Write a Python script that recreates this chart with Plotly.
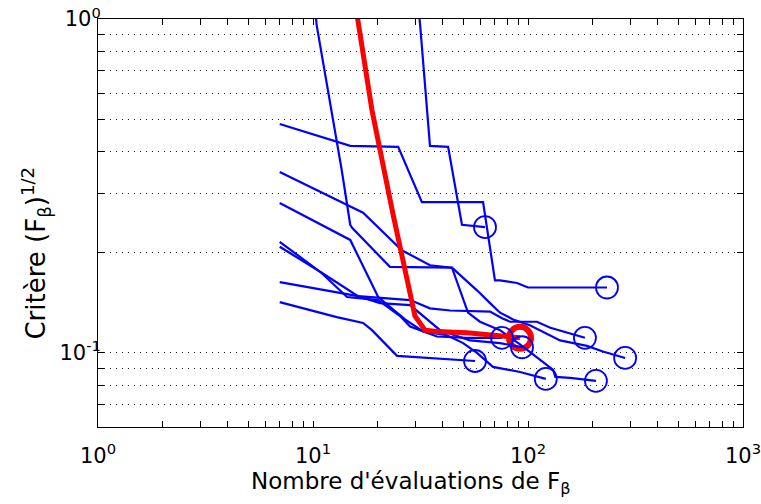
import plotly.graph_objects as go

# Nombre d'evaluations (x) et critere (y) pour chaque essai
run1_x = [7, 14.9, 24.9, 32.1, 61.8, 64.5, 70.2, 74.1, 88.9, 100, 233]
run1_y = [0.485, 0.417, 0.414, 0.283, 0.283, 0.238, 0.165, 0.165, 0.162, 0.157, 0.157]

run2_x = [30.5, 31.5, 35.0, 42.5, 49.3, 63.1]
run2_y = [1.18, 0.959, 0.417, 0.414, 0.242, 0.238]

run3_x = [10.1, 10.4, 13.6, 14.9, 15.2, 22.8, 44.3, 49.9, 57.9, 66.6, 74.1, 85.2, 102, 141, 188, 223, 283]
run3_y = [1.18, 0.959, 0.353, 0.242, 0.237, 0.181, 0.180, 0.168, 0.154, 0.141, 0.132, 0.126, 0.121, 0.109, 0.105, 0.101, 0.0966]

run4_x = [7, 17.1, 25.9, 35.0, 44.3, 47.2, 52.6, 59.8, 74.1, 91.8, 117, 131, 134, 157, 207]
run4_y = [0.348, 0.263, 0.203, 0.183, 0.180, 0.160, 0.132, 0.124, 0.117, 0.106, 0.0940, 0.0889, 0.0848, 0.0842, 0.0825]

run5_x = [7, 14.9, 20.1, 26.8, 32.5, 42.0, 49.9, 57.9, 68.7, 91.8, 121]
run5_y = [0.281, 0.218, 0.147, 0.126, 0.116, 0.113, 0.107, 0.100, 0.0908, 0.0877, 0.0836]

run6_x = [7, 10.8, 16.2, 20.5, 28.3, 35.0, 43.4, 66.6, 75.7, 82.5, 110, 127, 145, 169, 184]
run6_y = [0.215, 0.175, 0.148, 0.146, 0.144, 0.136, 0.134, 0.133, 0.127, 0.124, 0.124, 0.119, 0.116, 0.113, 0.111]

run7_x = [7, 10.8, 14.4, 20.1, 25.4, 28.3, 37.7, 52.0, 66.6, 75.7]
run7_y = [0.208, 0.175, 0.147, 0.144, 0.129, 0.120, 0.112, 0.111, 0.111, 0.111]

run8_x = [7, 16.2, 20.5, 28.3, 39.0, 53.7, 74.1, 93.8]
run8_y = [0.163, 0.148, 0.141, 0.139, 0.117, 0.109, 0.107, 0.104]

run9_x = [7, 8.98, 12.9, 17.1, 18.8, 24.6, 49.9, 56.7]
run9_y = [0.142, 0.136, 0.128, 0.123, 0.117, 0.098, 0.0953, 0.0946]

# essai mis en evidence (rouge)
best_x = [15.5, 18.8, 23.6, 26.8, 28.9, 29.8, 33.2, 37.7, 52.0, 76.5, 91.8]
best_y = [1.18, 0.534, 0.259, 0.177, 0.139, 0.129, 0.117, 0.116, 0.115, 0.112, 0.111]

x_ticks = [m * 10 ** e for e in range(3) for m in range(1, 10)] + [1000]
x_labels = {1: '10<sup>0</sup>', 10: '10<sup>1</sup>', 100: '10<sup>2</sup>', 1000: '10<sup>3</sup>'}
y_ticks = [0.07, 0.08, 0.09, 0.1, 0.2, 0.3, 0.4, 0.5, 0.6, 0.7, 0.8, 0.9, 1]
y_labels = {0.1: '10<sup>-1</sup>', 1: '10<sup>0</sup>'}

runs = [(run1_x, run1_y), (run2_x, run2_y), (run3_x, run3_y), (run4_x, run4_y),
        (run5_x, run5_y), (run6_x, run6_y), (run7_x, run7_y), (run8_x, run8_y),
        (run9_x, run9_y)]

fig = go.Figure()

# red end circle under the blue lines
fig.add_trace(go.Scatter(x=[best_x[-1]], y=[best_y[-1]], mode='markers',
                         marker=dict(symbol='circle-open', size=22, color='red',
                                     line=dict(width=6, color='red'))))

for rx, ry in runs:
    fig.add_trace(go.Scatter(x=rx, y=ry, mode='lines', line=dict(color='blue', width=2.2)))

fig.add_trace(go.Scatter(x=best_x, y=best_y, mode='lines', line=dict(color='red', width=5)))

for rx, ry in runs:
    fig.add_trace(go.Scatter(x=[rx[-1]], y=[ry[-1]], mode='markers',
                             marker=dict(symbol='circle-open', size=22, color='blue',
                                         line=dict(width=1.8, color='blue'))))

fig.update_layout(
    width=761, height=504,
    margin=dict(l=98, r=18, t=19, b=77),
    paper_bgcolor='white', plot_bgcolor='white',
    showlegend=False,
    font=dict(family='DejaVu Sans', size=21, color='black'),
)

fig.update_xaxes(
    type='log', range=[0, 3], automargin=False,
    tickvals=x_ticks, ticktext=[x_labels.get(v, '') for v in x_ticks],
    ticks='inside', ticklen=6, tickcolor='black', ticklabelstandoff=10,
    ticklabeloverflow='allow',
    showline=True, linecolor='black', linewidth=1, mirror='ticks',
    showgrid=False, zeroline=False,
)

fig.update_yaxes(
    type='log', range=[-1.2218, 0], automargin=False,
    tickvals=y_ticks, ticktext=[y_labels.get(v, '') for v in y_ticks],
    ticks='inside', ticklen=6, tickcolor='black', ticklabeloverflow='allow',
    ticklabelstandoff=-8,
    showline=True, linecolor='black', linewidth=1, mirror='ticks',
    showgrid=True, gridcolor='#222', gridwidth=1, griddash='1px,5px', zeroline=False,
)

# axis titles as annotations so they sit where the original puts them
fig.add_annotation(text="Nombre d'évaluations de F<sub>β</sub>", xref='paper', yref='paper',
                   x=0.485, y=0, yshift=-56, xanchor='center', yanchor='middle',
                   showarrow=False, font=dict(size=23))
fig.add_annotation(text='Critère (F<sub>β</sub>)<sup>1/2</sup>', xref='paper', yref='paper',
                   x=0, y=0.425, xshift=-62, xanchor='center', yanchor='middle',
                   textangle=-90, showarrow=False, font=dict(size=26))

# drop the default 8px page margin so the figure fills the window
fig.write_html("out.html", config={'displayModeBar': False},
               post_script="document.body.style.margin='0px';")
